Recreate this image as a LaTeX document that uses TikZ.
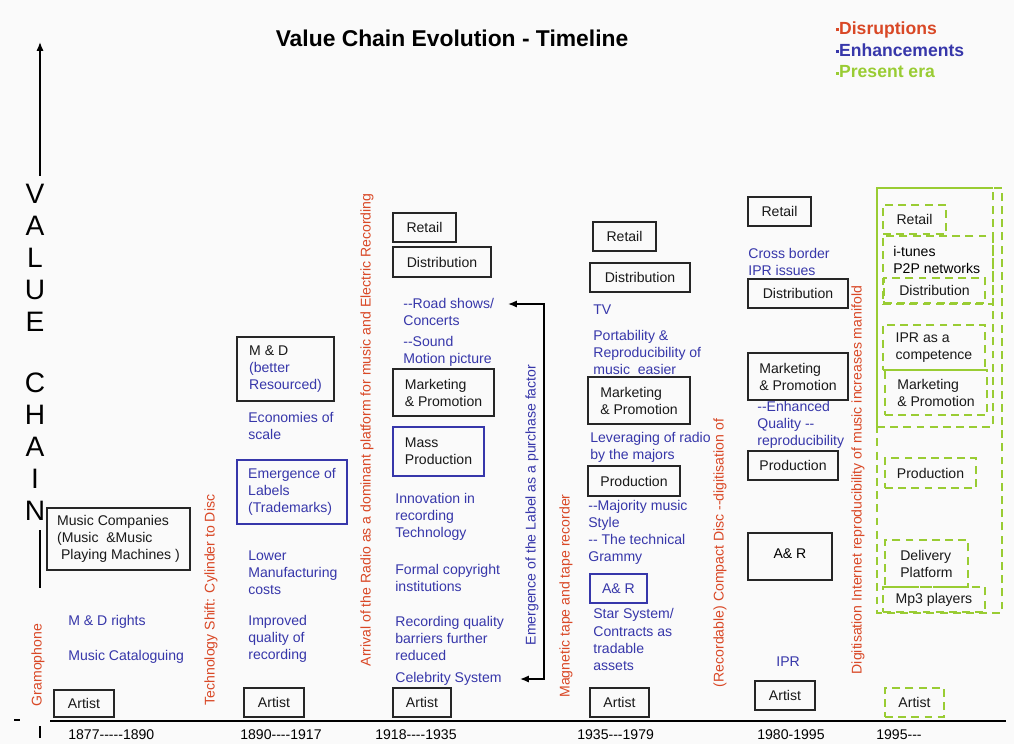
\documentclass[tikz,border=0pt]{standalone}
\usepackage{fontspec}
\setmainfont{Liberation Sans}[Ligatures=TeXOff]
\usetikzlibrary{arrows.meta}

\definecolor{disr}{RGB}{217,72,38}
\definecolor{enh}{RGB}{55,55,170}
\definecolor{present}{RGB}{153,204,51}
\definecolor{paper}{RGB}{250,250,250}

\begin{document}
\begin{tikzpicture}[x=0.2mm, y=-0.2mm, >={Latex[length=5pt,width=4pt]},
  every node/.style={font=\fontsize{8}{9.7}\selectfont, inner sep=0pt},
  sz/.style 2 args={minimum width=#1*0.2mm, minimum height=#2*0.2mm},
  stage/.style={draw=black!85, line width=0.8pt, align=left, text=black!90},
  newstage/.style={stage, draw=enh},
  erabox/.style={draw=present, line width=1.1pt, dash pattern=on 4.5pt off 3pt, align=left, text=black!90},
  enhtext/.style={anchor=west, align=left, text=enh},
  disrtext/.style={rotate=90, text=disr},
  year/.style={anchor=west}]
  % Define marks and heights
  \def\legmark{\rule[0.35ex]{1.6pt}{1.6pt}}
  \def\axisy{721}
  \def\yeary{735}

  \fill[paper] (0,0) rectangle (1014,744);
  \useasboundingbox (0,0) rectangle (1014,744);

  % --- Title and legend ---
  \node[font=\bfseries\fontsize{13}{15}\selectfont] (title) at (452,38) {Value Chain Evolution - Timeline};
  \node[anchor=west, font=\bfseries\fontsize{10}{12}\selectfont, text=disr] (lgddisr) at (836,30) {\legmark Disruptions};
  \node[anchor=west, font=\bfseries\fontsize{10}{12}\selectfont, text=enh] (lgdenh) at (836,50) {\legmark Enhancements};
  \node[anchor=west, font=\bfseries\fontsize{10}{12}\selectfont, text=present] (lgdnow) at (836,72) {\legmark Present era};

  % --- Value chain axis ---
  \node[font=\fontsize{16}{18.2}\selectfont, align=center] (value) at (35,257.5) {V\\A\\L\\U\\E};
  \node[font=\fontsize{16}{18.2}\selectfont, align=center] (chain) at (35,446.5) {C\\H\\A\\I\\N};
  \coordinate (vtop) at (40,42);
  \draw[thick, ->] (value.north -| vtop) ++(0,-8) -- (vtop);
  \draw[thick] (40,530) -- (40,588);
  \draw[thick] (14,720) -- (20,720); % tick marks
  \draw[thick] (40,726) -- (40,738);

  % --- Timeline ---
  \draw[thick] (50,\axisy) -- (1006,\axisy);
  \node[year] (y1) at (68,\yeary) {1877-----1890};
  \node[year] (y2) at (240,\yeary) {1890----1917};
  \node[year] (y3) at (375,\yeary) {1918----1935};
  \node[year] (y4) at (577,\yeary) {1935---1979};
  \node[year] (y5) at (757,\yeary) {1980-1995};
  \node[year] (y6) at (876,\yeary) {1995---};

  % --- Disruptions (vertical) ---
  \node[disrtext] (gram) at (38,665) {Gramophone};
  \node[disrtext] (disc) at (211,600) {Technology Shift: Cylinder to Disc};
  \node[disrtext] (radio) at (367,430) {Arrival of the Radio as a dominant platform for music  and Electric Recording};
  \node[disrtext] (tape) at (566,596) {Magnetic tape and tape recorder};
  \node[disrtext] (cd) at (720,553) {(Recordable) Compact Disc --digitisation of};
  \node[disrtext] (net) at (858,480) {Digitisation Internet reproducibility of music increases manifold};

  % --- 1877-1890 ---
  \node[stage, sz={143}{62}] (mc1) at (118.5,539) {Music Companies\\(Music \ \&Music\\\ Playing Machines )};
  \node[enhtext] (rights1) at (68,622) {M \& D rights};
  \node[enhtext] (cat1) at (68,657) {Music Cataloguing};
  \node[stage, sz={60}{27}] (art1) at (84,703.5) {Artist};

  % --- 1890-1917 ---
  \node[stage, sz={97}{64}] (md2) at (285.5,369) {M \& D\\\textcolor{enh}{(better}\\\textcolor{enh}{Resourced)}};
  \node[enhtext] (eco2) at (248,425.5) {Economies of\\scale};
  \node[newstage, sz={110}{64}, text=enh] (lab2) at (292,492) {Emergence of\\Labels\\(Trademarks)};
  \node[enhtext] (cost2) at (248,573) {Lower\\Manufacturing\\costs};
  \node[enhtext] (qual2) at (248,639) {Improved\\quality of\\recording};
  \node[stage, sz={60}{29}] (art2) at (274,702.5) {Artist};

  % --- 1918-1935 ---
  \node[stage, sz={63}{29}] (ret3) at (424.5,227.5) {Retail};
  \node[stage, sz={98}{30}] (dis3) at (442,262) {Distribution};
  \node[enhtext] (road3) at (403,311.5) {--Road shows/\\Concerts};
  \node[enhtext] (movie3) at (403,351.5) {--Sound\\Motion picture};
  \node[stage, sz={101}{47}] (mkt3) at (443.5,392.5) {Marketing\\\& Promotion};
  \node[newstage, sz={91}{49}] (mass3) at (438.5,451.5) {Mass\\Production};
  \node[enhtext] (inno3) at (395,517) {Innovation in\\recording\\Technology};
  \node[enhtext] (copy3) at (395,577.5) {Formal copyright\\institutions};
  \node[enhtext] (barr3) at (395,638.5) {Recording quality\\barriers further\\reduced};
  \node[enhtext] (celeb3) at (395,679) {Celebrity System};
  \node[stage, sz={58}{29}] (art3) at (422,702.5) {Artist};
  % label as a purchase factor
  \coordinate (lbtop) at (508,304);
  \coordinate (lbbot) at (520,679);
  \draw[thick, <->] (lbtop) -- ++(36,0) |- (lbbot);
  \node[rotate=90, text=enh] (label3) at (532,505) {Emergence of the Label as a purchase factor};

  % --- 1935-1979 ---
  \node[stage, sz={63}{29}] (ret4) at (624.5,236.5) {Retail};
  \node[stage, sz={100}{29}] (dis4) at (640,277.5) {Distribution};
  \node[enhtext] (tv4) at (593,310) {TV};
  \node[enhtext] (port4) at (593,352.5) {Portability \&\\Reproducibility of\\music \ easier};
  \node[stage, sz={102}{47}] (mkt4) at (639,400.5) {Marketing\\\& Promotion};
  \node[enhtext] (lev4) at (590,447.5) {Leveraging of radio\\by the majors};
  \node[stage, sz={92}{30}] (prod4) at (634,481) {Production};
  \node[enhtext] (style4) at (588,515.5) {--Majority music\\Style};
  \node[enhtext] (gram4) at (588,549.5) {-- The technical\\Grammy};
  \node[newstage, sz={57}{29}, text=enh] (ar4) at (618.5,588.5) {A\& R};
  \node[enhtext] (star4) at (593,639.5) {Star System/\\Contracts as\\tradable\\assets};
  \node[stage, sz={59}{29}] (art4) at (619.5,702.5) {Artist};

  % --- 1980-1995 ---
  \node[stage, sz={63}{29}] (ret5) at (779.5,211.5) {Retail};
  \node[enhtext] (ipr5a) at (748,262) {Cross border\\IPR issues};
  \node[stage, sz={100}{29}] (dis5) at (798,293.5) {Distribution};
  \node[stage, sz={100}{47}] (mkt5) at (798,376.5) {Marketing\\\& Promotion};
  \node[enhtext] (qual5) at (757,425) {--Enhanced\\Quality --\\reproducibility};
  \node[stage, sz={90}{29}] (prod5) at (793,465.5) {Production};
  \node[stage, sz={84}{47}, label={[anchor=north, yshift=-9pt]north:A\& R}] (ar5) at (790,556.5) {};
  \node[enhtext] (ipr5) at (776,662) {IPR};
  \node[stage, sz={60}{29}] (art5) at (785,695.5) {Artist};

  % --- 1995- (present era) ---
  \draw[present, line width=1.1pt] (993,188) -- (877,188) -- (877,427);
  \draw[erabox] (877,427) -| (993,188);
  \draw[erabox] (877,188) rectangle (1002,613);
  \node[erabox, sz={63}{29}] (ret6) at (914.5,219.5) {Retail};
  \node[erabox, sz={110}{68}] (itu6) at (938,270) {};
  \node[anchor=west, align=left] (itutxt) at (893,259.5) {i-tunes\\P2P networks};
  \node[erabox, sz={101}{25}] (dis6) at (934.5,290.5) {Distribution};
  \node[erabox, sz={102}{45}] (ipr6) at (934,347.5) {IPR as a\\competence};
  \node[erabox, sz={102}{45}] (mkt6) at (936,392.5) {Marketing\\\& Promotion};
  \node[erabox, sz={91}{30}] (prod6) at (930.5,473) {Production};
  \node[erabox, sz={83}{47}] (del6) at (926.5,563.5) {Delivery\\Platform};
  \node[erabox, sz={102}{25}] (mp36) at (934,599.5) {Mp3 players};
  \node[erabox, sz={59}{29}] (art6) at (914.5,702.5) {Artist};

\end{tikzpicture}
\end{document}
